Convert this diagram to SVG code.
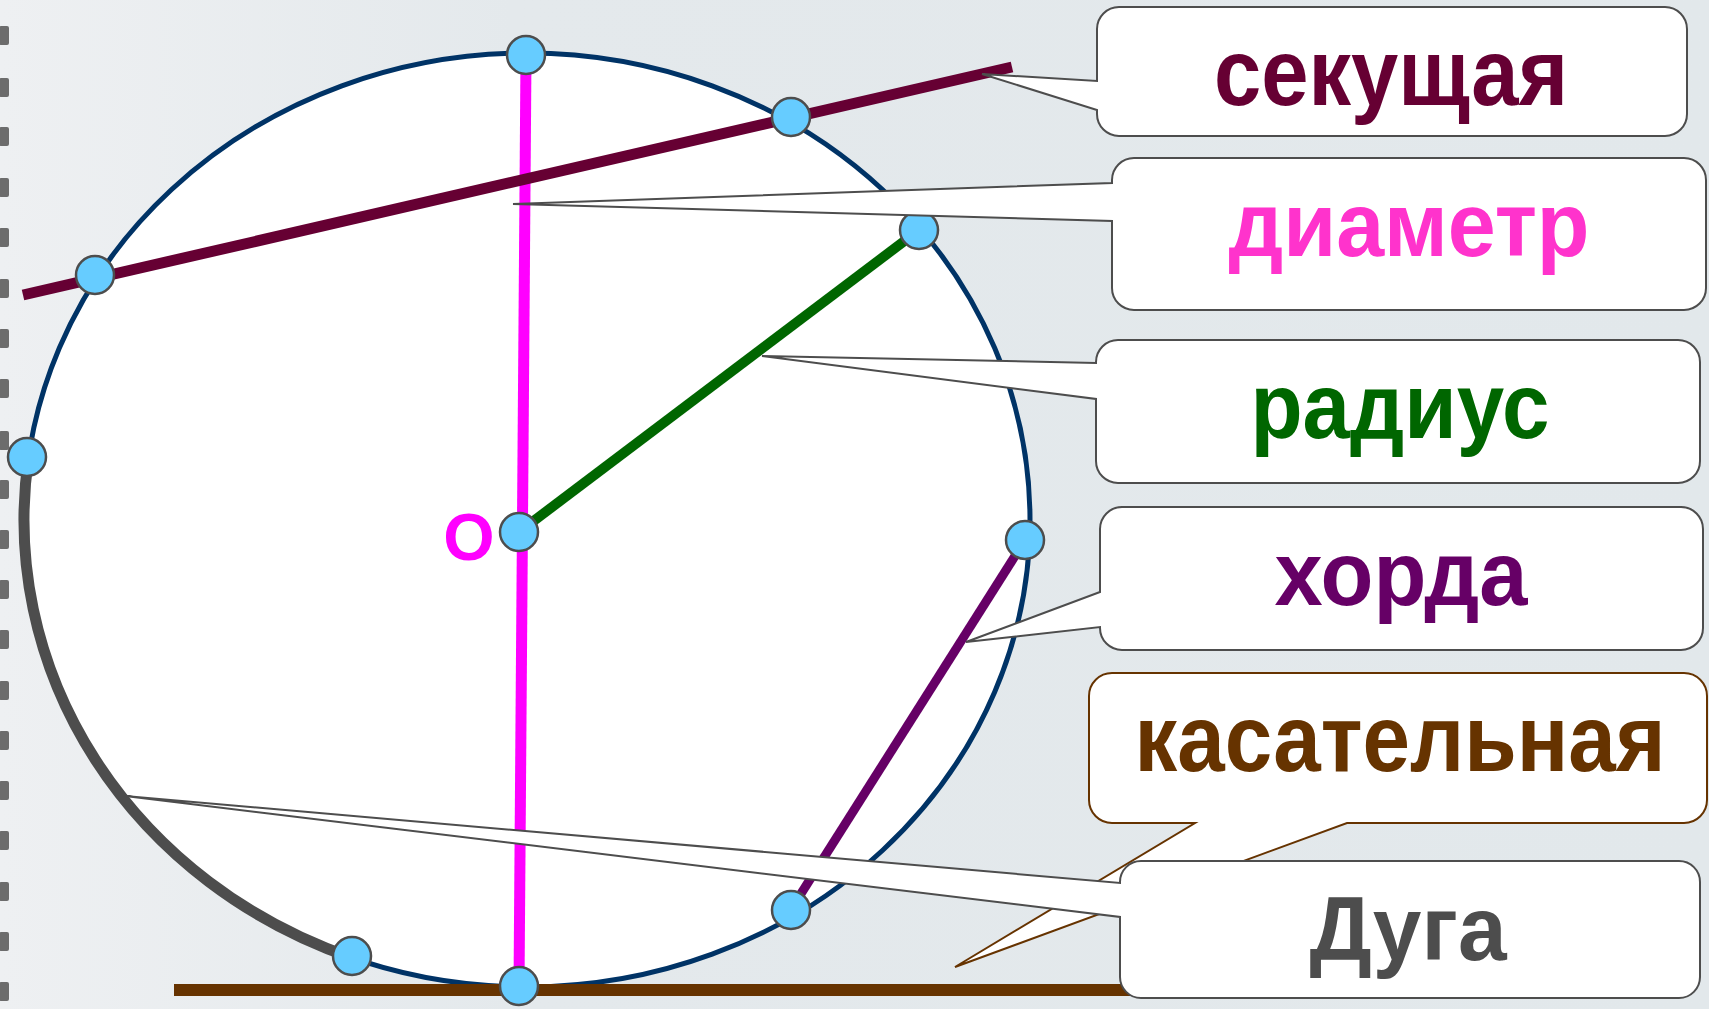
<svg xmlns="http://www.w3.org/2000/svg" width="1709" height="1009" viewBox="0 0 1709 1009">
<defs>
<linearGradient id="bg" x1="0" y1="0" x2="1" y2="0">
<stop offset="0" stop-color="#eef0f2"/>
<stop offset="0.3" stop-color="#e4e9ec"/>
<stop offset="1" stop-color="#e2e8eb"/>
</linearGradient>
<style>
.call{fill:#fff;stroke:#4d4d4d;stroke-width:2;stroke-linejoin:miter}
.lbl{font-family:"Liberation Sans",Arial,sans-serif;font-weight:bold;text-anchor:middle}
.pt{fill:#66ccff;stroke:#4d4d4d;stroke-width:2.5}
.ring{fill:#555;opacity:.85}
</style>
</defs>
<rect width="1709" height="1009" fill="url(#bg)"/>
<g id="binder">
<rect class="ring" x="-1" y="26" width="10" height="19" rx="2"/>
<rect class="ring" x="-1" y="78" width="10" height="19" rx="2"/>
<rect class="ring" x="-1" y="127" width="10" height="19" rx="2"/>
<rect class="ring" x="-1" y="178" width="10" height="19" rx="2"/>
<rect class="ring" x="-1" y="228" width="10" height="19" rx="2"/>
<rect class="ring" x="-1" y="279" width="10" height="19" rx="2"/>
<rect class="ring" x="-1" y="329" width="10" height="19" rx="2"/>
<rect class="ring" x="-1" y="379" width="10" height="19" rx="2"/>
<rect class="ring" x="-1" y="431" width="10" height="19" rx="2"/>
<rect class="ring" x="-1" y="480" width="10" height="19" rx="2"/>
<rect class="ring" x="-1" y="530" width="10" height="19" rx="2"/>
<rect class="ring" x="-1" y="580" width="10" height="19" rx="2"/>
<rect class="ring" x="-1" y="630" width="10" height="19" rx="2"/>
<rect class="ring" x="-1" y="681" width="10" height="19" rx="2"/>
<rect class="ring" x="-1" y="731" width="10" height="19" rx="2"/>
<rect class="ring" x="-1" y="781" width="10" height="19" rx="2"/>
<rect class="ring" x="-1" y="831" width="10" height="19" rx="2"/>
<rect class="ring" x="-1" y="882" width="10" height="19" rx="2"/>
<rect class="ring" x="-1" y="932" width="10" height="19" rx="2"/>
<rect class="ring" x="-1" y="982" width="10" height="19" rx="2"/>
</g>
<g id="figure">
<ellipse id="circle" cx="527" cy="520" rx="503" ry="467" fill="#fff" stroke="#003366" stroke-width="5"/>
<path id="arc" d="M28.6 457 A503 467 0 0 0 351.3 957.6" fill="none" stroke="#4d4d4d" stroke-width="11"/>
<line id="tangent" x1="174" y1="990" x2="1130" y2="990" stroke="#663300" stroke-width="12"/>
<line id="diameter" x1="526" y1="56" x2="519" y2="986" stroke="#ff00ff" stroke-width="11"/>
<line id="secant" x1="23" y1="295" x2="1012" y2="67" stroke="#660033" stroke-width="11"/>
<line id="radius" x1="519" y1="532" x2="915" y2="233" stroke="#006600" stroke-width="10"/>
<line id="chord" x1="1015" y1="556" x2="797" y2="900" stroke="#660066" stroke-width="9"/>
<text class="lbl" x="469" y="560" font-size="66" fill="#ff00ff">О</text>
</g>
<g id="points">
<circle class="pt" cx="526" cy="55" r="19"/>
<circle class="pt" cx="95" cy="275" r="19"/>
<circle class="pt" cx="791" cy="117" r="19"/>
<circle class="pt" cx="919" cy="230" r="19"/>
<circle class="pt" cx="27" cy="457" r="19"/>
<circle class="pt" cx="519" cy="532" r="19"/>
<circle class="pt" cx="1025" cy="540" r="19"/>
<circle class="pt" cx="791" cy="910" r="19"/>
<circle class="pt" cx="352" cy="956" r="19"/>
<circle class="pt" cx="519" cy="986" r="19"/>
</g>
<g id="connectors">
<!-- pointers are drawn as part of each callout shape -->
</g>
<g id="node-sekushchaya">
<path class="call" d="M1119 7 H1665 A22 22 0 0 1 1687 29 V114 A22 22 0 0 1 1665 136 H1119 A22 22 0 0 1 1097 114 V110 L982 74 L1097 81 V29 A22 22 0 0 1 1119 7 Z"/>
<text class="lbl" x="1391" y="105" font-size="94" fill="#660033" textLength="354" lengthAdjust="spacingAndGlyphs">секущая</text>
</g>
<g id="node-diametr">
<path class="call" d="M1134 158 H1684 A22 22 0 0 1 1706 180 V288 A22 22 0 0 1 1684 310 H1134 A22 22 0 0 1 1112 288 V221 L513 204 L1112 183 V180 A22 22 0 0 1 1134 158 Z"/>
<text class="lbl" x="1409" y="256" font-size="90" fill="#ff33cc" textLength="361" lengthAdjust="spacingAndGlyphs">диаметр</text>
</g>
<g id="node-radius">
<path class="call" d="M1118 340 H1678 A22 22 0 0 1 1700 362 V461 A22 22 0 0 1 1678 483 H1118 A22 22 0 0 1 1096 461 V399 L762 356 L1096 363 V362 A22 22 0 0 1 1118 340 Z"/>
<text class="lbl" x="1400" y="438" font-size="93" fill="#006600" textLength="299" lengthAdjust="spacingAndGlyphs">радиус</text>
</g>
<g id="node-horda">
<path class="call" d="M1122 507 H1681 A22 22 0 0 1 1703 529 V628 A22 22 0 0 1 1681 650 H1122 A22 22 0 0 1 1100 628 V627 L966 642 L1100 592 V529 A22 22 0 0 1 1122 507 Z"/>
<text class="lbl" x="1401" y="605" font-size="90" fill="#660066" textLength="253" lengthAdjust="spacingAndGlyphs">хорда</text>
</g>
<g id="node-kasatelnaya">
<path class="call" style="stroke:#663300" d="M1112 673 H1684 A23 23 0 0 1 1707 696 V800 A23 23 0 0 1 1684 823 H1347 L955 967 L1195 823 H1112 A23 23 0 0 1 1089 800 V696 A23 23 0 0 1 1112 673 Z"/>
<text class="lbl" x="1400" y="771" font-size="95" fill="#663300" textLength="531" lengthAdjust="spacingAndGlyphs">касательная</text>
</g>
<g id="node-duga">
<path class="call" d="M1141 861 H1679 A21 21 0 0 1 1700 882 V977 A21 21 0 0 1 1679 998 H1141 A21 21 0 0 1 1120 977 V917 L125 796 L1120 883 V882 A21 21 0 0 1 1141 861 Z"/>
<text class="lbl" x="1408" y="960" font-size="90" fill="#4d4d4d" textLength="197" lengthAdjust="spacingAndGlyphs">Дуга</text>
</g>
</svg>
